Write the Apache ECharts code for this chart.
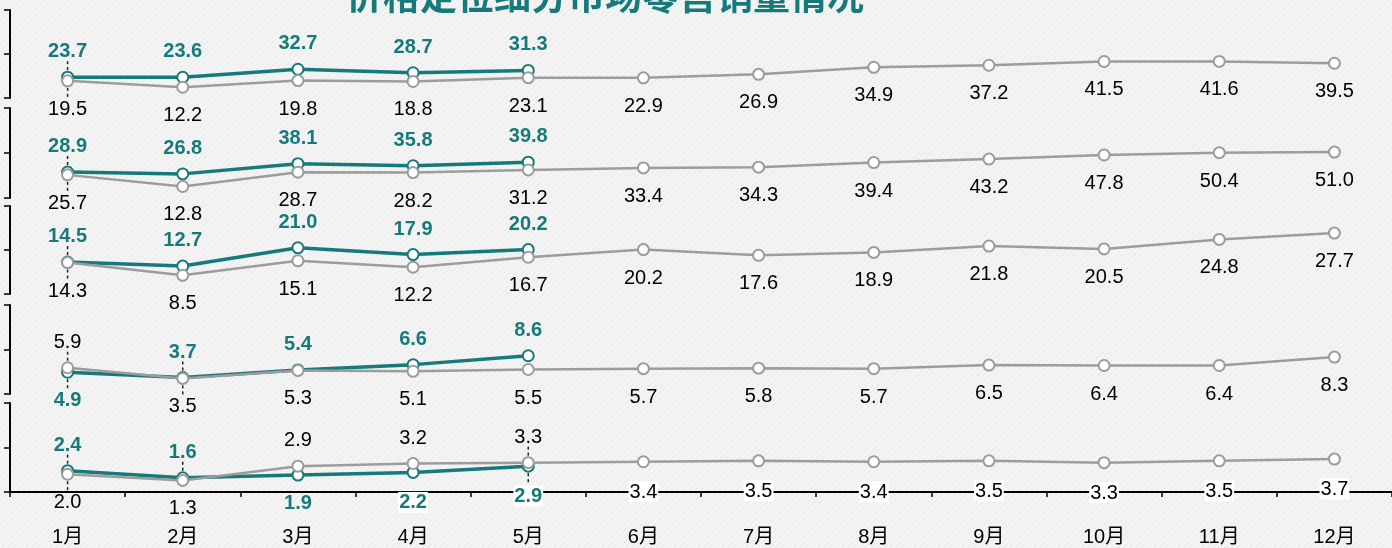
<!DOCTYPE html>
<html lang="zh">
<head>
<meta charset="UTF-8">
<title>价格定位细分市场零售销量情况</title>
<script src="https://cdn.jsdelivr.net/npm/echarts@6/dist/echarts.min.js"></script>
<style>
    html, body { margin: 0; padding: 0; }
    #main { width: 1392px; height: 548px; }
</style>
</head>
<body>
<div id="main"></div>
<script>
    // 月份
    var months = ['1月', '2月', '3月', '4月', '5月', '6月', '7月', '8月', '9月', '10月', '11月', '12月'];

    // 2025年 (1-5月), 自上而下五个价格段
    var cur1 = [23.7, 23.6, 32.7, 28.7, 31.3];
    var cur2 = [28.9, 26.8, 38.1, 35.8, 39.8];
    var cur3 = [14.5, 12.7, 21.0, 17.9, 20.2];
    var cur4 = [4.9, 3.7, 5.4, 6.6, 8.6];
    var cur5 = [2.4, 1.6, 1.9, 2.2, 2.9];

    // 2024年 (1-12月)
    var prev1 = [19.5, 12.2, 19.8, 18.8, 23.1, 22.9, 26.9, 34.9, 37.2, 41.5, 41.6, 39.5];
    var prev2 = [25.7, 12.8, 28.7, 28.2, 31.2, 33.4, 34.3, 39.4, 43.2, 47.8, 50.4, 51.0];
    var prev3 = [14.3, 8.5, 15.1, 12.2, 16.7, 20.2, 17.6, 18.9, 21.8, 20.5, 24.8, 27.7];
    var prev4 = [5.9, 3.5, 5.3, 5.1, 5.5, 5.7, 5.8, 5.7, 6.5, 6.4, 6.4, 8.3];
    var prev5 = [2.0, 1.3, 2.9, 3.2, 3.3, 3.4, 3.5, 3.4, 3.5, 3.3, 3.5, 3.7];

    // 每个小图的纵轴上限
    var yMax = [100, 100, 40, 20, 10];

    var curList = [cur1, cur2, cur3, cur4, cur5];
    var prevList = [prev1, prev2, prev3, prev4, prev5];

    // 标签位置: t 上方, b 下方, w 下方带白底
    var curSide = [
        't t t t t', 't t t t t', 't t t t t', 'b t t t t', 't t b w w'
    ];
    var prevSide = [
        'b b b b b b b b b b b b', 'b b b b b b b b b b b b', 'b b b b b b b b b b b b',
        't b b b b b b b b b b b', 'b b t t t w w w w w w w'
    ];

    // 引导虚线: [小图, 系列(0=2025,1=2024), 月份序号]
    var leaders = [
        [0, 0, 0], [0, 1, 0],
        [1, 0, 0], [1, 1, 0],
        [2, 0, 0], [2, 1, 0],
        [3, 0, 0], [3, 1, 0], [3, 0, 1], [3, 1, 1],
        [4, 0, 0], [4, 1, 0], [4, 0, 1], [4, 1, 4], [4, 0, 4]
    ];

    var TEAL = '#167a7b';
    var GREY = '#9c9c9c';
    var FONT = 'Liberation Sans, Arial, Noto Sans CJK SC';
    var gridTop = [10, 108, 206, 305, 403];
    var gridH = [88, 90, 88, 89, 89];

    // 背景斜纹
    var bg = document.createElement('canvas');
    bg.width = 6; bg.height = 6;
    var ctx = bg.getContext('2d');
    ctx.fillStyle = '#efefef';
    ctx.fillRect(0, 0, 6, 6);
    ctx.strokeStyle = '#f7f7f7';
    ctx.lineWidth = 1.5;
    ctx.beginPath();
    ctx.moveTo(-1, 7); ctx.lineTo(7, -1);
    ctx.moveTo(-1, 1); ctx.lineTo(1, -1);
    ctx.moveTo(5, 7); ctx.lineTo(7, 5);
    ctx.stroke();

    function makeData(values, sides, bold, color) {
        var s = sides.split(' ');
        return values.map(function (v, i) {
            var pos = s[i] === 't' ? 'top' : 'bottom';
            var label = {
                position: pos,
                distance: pos === 'top' ? 9 : 12,
                color: color,
                fontWeight: bold ? 'bold' : 'normal'
            };
            if (s[i] === 'w') {
                label.backgroundColor = '#ffffff';
                label.padding = [1, 1, 0, 1];
                label.distance = 13;
            }
            return { value: v, label: label };
        });
    }

    function fmt(p) {
        return Number(p.value).toFixed(1);
    }

    function leaderData(k) {
        var out = [];
        leaders.forEach(function (l) {
            if (l[0] !== k) return;
            var vals = l[1] === 0 ? curList[k] : prevList[k];
            var side = (l[1] === 0 ? curSide[k] : prevSide[k]).split(' ')[l[2]];
            out.push([l[2], vals[l[2]], side === 't' ? -1 : 1]);
        });
        return out;
    }

    function renderLeader(params, api) {
        var p = api.coord([api.value(0), api.value(1)]);
        var dir = api.value(2);
        return {
            type: 'line',
            shape: { x1: p[0], y1: p[1] + dir * 7, x2: p[0], y2: p[1] + dir * (dir < 0 ? 19 : 18) },
            style: { stroke: '#222', lineWidth: 1.5, lineDash: [3, 3] }
        };
    }

    var grids = [], xAxes = [], yAxes = [], series = [];
    for (var k = 0; k < 5; k++) {
        var last = k === 4;
        grids.push({ left: 10, width: 1386, top: gridTop[k], height: gridH[k] });
        xAxes.push({
            type: 'category',
            gridIndex: k,
            data: months,
            boundaryGap: true,
            show: last,
            axisLine: { show: last, lineStyle: { color: '#000', width: 2 } },
            axisTick: { show: last, length: 5, lineStyle: { color: '#000', width: 1.5 } },
            axisLabel: {
                show: last, margin: 35, color: '#000', fontSize: 20,
                fontFamily: FONT
            }
        });
        yAxes.push({
            type: 'value',
            gridIndex: k,
            min: 0,
            max: yMax[k],
            interval: yMax[k] / 2,
            axisLine: { show: true, lineStyle: { color: '#000', width: 2 } },
            axisTick: { show: true, length: 6, lineStyle: { color: '#000', width: 1.5 } },
            axisLabel: { show: false },
            splitLine: { show: false }
        });
        series.push({
            type: 'custom',
            xAxisIndex: k,
            yAxisIndex: k,
            data: leaderData(k),
            renderItem: renderLeader,
            silent: true,
            z: 1
        });
        series.push({
            name: '2025',
            type: 'line',
            xAxisIndex: k,
            yAxisIndex: k,
            data: makeData(curList[k], curSide[k], true, TEAL),
            symbol: 'circle',
            symbolSize: 11,
            lineStyle: { color: TEAL, width: 3.5 },
            itemStyle: { color: '#fff', borderColor: TEAL, borderWidth: 2 },
            label: { show: true, fontSize: 20, fontFamily: FONT, formatter: fmt },
            z: 2
        });
        series.push({
            name: '2024',
            type: 'line',
            xAxisIndex: k,
            yAxisIndex: k,
            data: makeData(prevList[k], prevSide[k], false, '#000'),
            symbol: 'circle',
            symbolSize: 11,
            lineStyle: { color: GREY, width: 2.5 },
            itemStyle: { color: '#fff', borderColor: GREY, borderWidth: 2 },
            label: { show: true, fontSize: 20, fontFamily: FONT, formatter: fmt },
            z: 3
        });
    }

    var option = {
        backgroundColor: { image: bg, repeat: 'repeat' },
        animation: false,
        title: {
            text: '价格定位细分市场零售销量情况',
            left: 341,
            top: -28,
            textStyle: {
                color: TEAL, fontSize: 37, fontWeight: 'bold',
                fontFamily: 'Noto Sans CJK SC'
            }
        },
        grid: grids,
        xAxis: xAxes,
        yAxis: yAxes,
        series: series
    };

    var myChart = echarts.init(document.getElementById('main'));
    myChart.setOption(option);
</script>
</body>
</html>
